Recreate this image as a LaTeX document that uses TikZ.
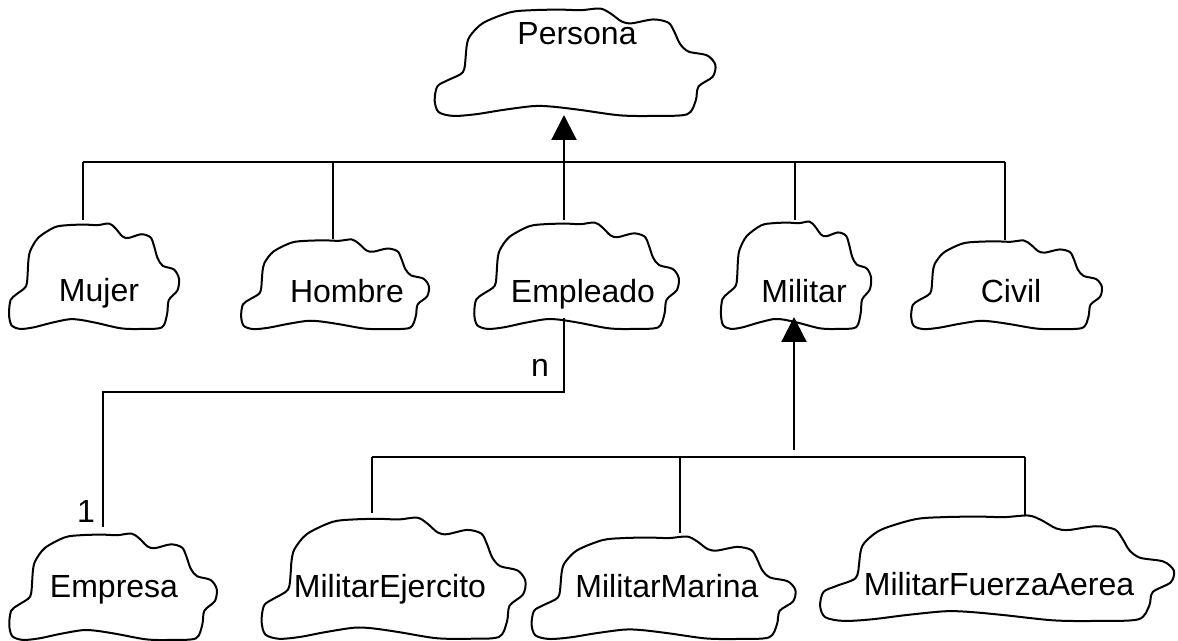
\documentclass[tikz,border=0pt]{standalone}
\usepackage{fontspec}
\setmainfont{Liberation Sans}
\usetikzlibrary{arrows.meta}

\tikzset{
  cloudbox/.style={rectangle, draw=none, inner sep=0pt, outer sep=0pt},
  cloudline/.style={line width=1pt, line join=round},
  classname/.style={font=\fontsize{16}{19}\selectfont, inner sep=0pt, anchor=base},
  conn/.style={line width=0.9pt},
  inh/.style={line width=1.1pt, -{Triangle[length=12.5pt,width=12.5pt]}},
}

% \cloudclass{name}{left}{top}{right}{bottom}: an invisible box node plus
% the Booch class cloud outline stretched over it (units: px, y downwards)
\newcommand\cloudclass[5]{%
  \node[cloudbox, minimum width={0.5pt*(#4-#2)}, minimum height={0.5pt*(#5-#3)}]
    (#1) at ({(#2+#4)/2},{(#3+#5)/2}) {};
  \begin{scope}[shift={(#2,#3)}, x={0.5pt*(#4-#2)}, y={-0.5pt*(#5-#3)}]
    \draw[cloudline] plot[smooth cycle, tension=0.5] coordinates {
      (0.129,0.262) (0.176,0.138) (0.271,0.040) (0.350,0.020) (0.447,0.015)
      (0.520,0.020) (0.588,0.005) (0.625,0.050) (0.665,0.125) (0.700,0.140)
      (0.776,0.105) (0.829,0.135) (0.850,0.220) (0.870,0.330) (0.900,0.400)
      (0.965,0.435) (0.994,0.520) (0.985,0.630) (0.935,0.720) (0.925,0.850)
      (0.895,0.975) (0.780,0.990) (0.659,0.985) (0.518,0.935) (0.420,0.905)
      (0.353,0.900) (0.247,0.935) (0.150,0.975) (0.071,0.990) (0.020,0.955)
      (0.006,0.850) (0.015,0.720) (0.050,0.665) (0.105,0.590) (0.115,0.450)
      (0.118,0.360)};
  \end{scope}%
}

\begin{document}
\begin{tikzpicture}[x=0.5pt, y=-0.5pt]
\useasboundingbox (0,0) rectangle (1178,641);

% class clouds
\cloudclass{persona}{433}{8}{717}{117}
\cloudclass{mujer}{8}{223}{180}{330}
\cloudclass{hombre}{240}{239}{430}{330}
\cloudclass{empleado}{473}{222}{680}{330}
\cloudclass{militar}{720}{221}{872}{330}
\cloudclass{civil}{910}{240}{1103}{330}
\cloudclass{empresa}{8}{533}{218}{641}
\cloudclass{ejercito}{260}{517}{527}{640}
\cloudclass{marina}{530}{536}{797}{640}
\cloudclass{aerea}{818}{515}{1176}{622}

% class names
\node[classname] (persona-t)  at (577,45)  {Persona};
\node[classname] (mujer-t)    at (99,302)  {Mujer};
\node[classname] (hombre-t)   at (347,303) {Hombre};
\node[classname] (empleado-t) at (583,303) {Empleado};
\node[classname] (militar-t)  at (804,303) {Militar};
\node[classname] (civil-t)    at (1011,303) {Civil};
\node[classname] (empresa-t)  at (114,597) {Empresa};
\node[classname] (ejercito-t) at (390,597) {MilitarEjercito};
\node[classname] (marina-t)   at (667,597) {MilitarMarina};
\node[classname] (aerea-t)    at (999,595) {MilitarFuerzaAerea};

% junctions on the upper inheritance bar
\coordinate (jmujer)  at (83,162);
\coordinate (jhombre) at (333,162);
\coordinate (jemp)    at (564,162);
\coordinate (jmil)    at (795,162);
\coordinate (jcivil)  at (1005,162);

% Persona and its subclasses
\draw[conn] (jmujer) -- (jcivil);
\draw[conn] (jmujer) -- ([yshift=1.5pt]jmujer |- mujer.north);
\draw[conn] (jhombre) -- (jhombre |- hombre.north);
\draw[inh] ([yshift=1pt]jemp |- empleado.north) -- ([yshift=1pt]jemp |- persona.south);
\draw[conn] (jmil) -- ([yshift=0.5pt]jmil |- militar.north);
\draw[conn] (jcivil) -- (jcivil |- civil.north);

% Empleado n -- 1 Empresa association
\coordinate (empfoot) at (564,318);
\coordinate (elbow)   at (103,392);
\draw[conn] (empfoot) |- (elbow) -- ([yshift=3pt]elbow |- empresa.north);
\node[classname] (mult-n) at (540,377) {n};
\node[classname] (mult-1) at (86,523) {1};

% Militar and its subclasses
\coordinate (kej)  at (372,457);
\coordinate (kmar) at (680,457);
\coordinate (kfa)  at (1025,457);
\coordinate (kmil) at (794,450);
\coordinate (milfoot) at (794,317);
\draw[conn] (kej) -- (kfa);
\draw[conn] (kej) -- ([yshift=2pt]kej |- ejercito.north);
\draw[conn] (kmar) -- ([yshift=1.5pt]kmar |- marina.north);
\draw[conn] (kfa) -- (kfa |- aerea.north);
\draw[inh] (kmil) -- (milfoot);
\end{tikzpicture}
\end{document}
